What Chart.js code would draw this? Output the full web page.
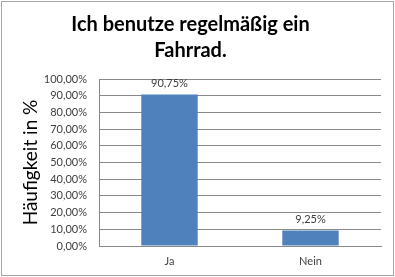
<!DOCTYPE html>
<html>
<head>
<meta charset="utf-8">
<script src="https://cdn.jsdelivr.net/npm/chart.js@4/dist/chart.umd.min.js"></script>
<style>
  html, body { margin: 0; padding: 0; background: #fff; }
  #wrap { position: relative; width: 395px; height: 277px; }
  #frame { position: absolute; left: 1px; top: 1px; width: 391px; height: 273px; border: 1px solid #a6a6a6; pointer-events: none; }
  canvas { display: block; }
</style>
</head>
<body>
<div id="wrap">
  <canvas id="myChart" width="395" height="277"></canvas>
  <div id="frame"></div>
</div>
<script>
var titleLines = ['Ich benutze regelmäßig ein', 'Fahrrad.'];
var categories = ['Ja', 'Nein'];
var percentValues = [90.75, 9.25];
var yTickMax = 100;
var yTickStep = 10;
var yAxisTitle = 'Häufigkeit in %';

function fmtPercent(v){
  return v.toFixed(2).replace('.', ',') + '%';
}

// little plugin for the value labels above the bars
var barLabels = {
  id: 'barLabels',
  afterDatasetsDraw: function(chart){
    var ctx = chart.ctx;
    var meta = chart.getDatasetMeta(0);
    ctx.save();
    ctx.font = '11px Lato';
    ctx.fillStyle = '#404040';
    ctx.textAlign = 'center';
    ctx.textBaseline = 'middle';
    meta.data.forEach(function(bar, i){
      ctx.fillText(fmtPercent(percentValues[i]), bar.x, bar.y - 11);
    });
    ctx.restore();
  }
};

var ctx = document.getElementById('myChart');
var myChart = new Chart(ctx, {
  type: 'bar',
  data: {
    labels: categories,
    datasets: [{
      label: 'Häufigkeit',
      data: percentValues,
      backgroundColor: '#4f81bd',
      borderWidth: 0,
      barPercentage: 0.4,
      categoryPercentage: 1
    }]
  },
  options: {
    responsive: false,
    animation: false,
    layout: { padding: { left: 0, right: 14, top: 0, bottom: 0 } },
    plugins: {
      legend: { display: false },
      tooltip: { enabled: false },
      title: {
        display: true,
        text: titleLines,
        color: '#000',
        font: { family: 'Lato', size: 20, weight: 'bold', lineHeight: 1.3 },
        padding: { top: 12, bottom: 15 }
      }
    },
    scales: {
      x: {
        grid: { display: false, drawTicks: false },
        border: { display: true, color: '#8a8a8a', width: 1 },
        ticks: { color: '#404040', font: { family: 'Lato', size: 11 }, padding: 9 },
        afterFit: function(scale){ scale.height = 31; }
      },
      y: {
        min: 0,
        max: yTickMax,
        ticks: {
          stepSize: yTickStep,
          color: '#404040',
          font: { family: 'Lato', size: 11 },
          padding: 12,
          callback: function(value){ return fmtPercent(value); }
        },
        grid: { color: '#8a8a8a', drawTicks: false },
        border: { display: true, color: '#8a8a8a', width: 1 },
        title: {
          display: true,
          text: yAxisTitle,
          color: '#000',
          font: { family: 'Lato', size: 19 },
          padding: { top: 19, bottom: 0 }
        },
        afterFit: function(scale){ scale.width = 99; }
      }
    }
  },
  plugins: [barLabels]
});
</script>
</body>
</html>
